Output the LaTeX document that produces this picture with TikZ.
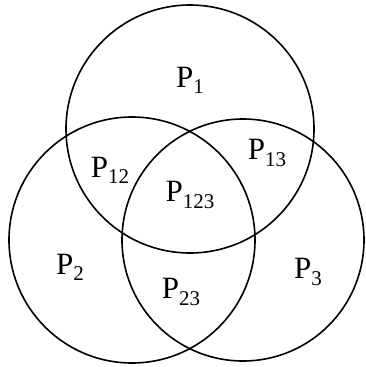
\documentclass[tikz,border=0pt]{standalone}
\usepackage{fontspec}
\setmainfont{Liberation Serif}
\newcommand{\psub}[1]{P\raisebox{-0.2em}{\fontsize{21}{21}\selectfont #1}}
\tikzset{
  venn/.style={draw=black, line width=1.6pt},
  lbl/.style={font=\fontsize{31}{31}\selectfont, inner sep=0pt}
}
\begin{document}
\begin{tikzpicture}[x=1pt,y=-1pt]
\useasboundingbox (0,0) rectangle (365,367);
\draw[venn] (190,129) circle (124);
\draw[venn] (132,240) circle (123);
\draw[venn] (243,240) circle (121);
\node[lbl] (p1) at (190,80) {\psub{1}};
\node[lbl] (p12) at (110,170) {\psub{12}};
\node[lbl] (p13) at (267,153) {\psub{13}};
\node[lbl] (p123) at (190,195) {\psub{123}};
\node[lbl] (p2) at (70,267) {\psub{2}};
\node[lbl] (p3) at (308,272) {\psub{3}};
\node[lbl] (p23) at (181,292) {\psub{23}};
\end{tikzpicture}
\end{document}
